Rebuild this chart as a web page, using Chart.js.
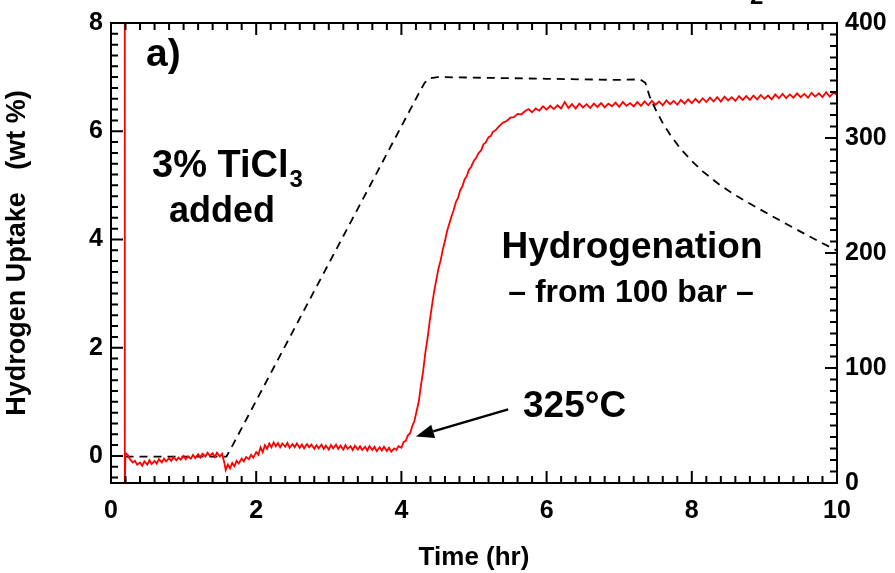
<!DOCTYPE html>
<html>
<head>
<meta charset="utf-8">
<script src="https://cdn.jsdelivr.net/npm/chart.js@4.4.0/dist/chart.umd.min.js"></script>
<style>
  body { margin: 0; background: #fff; }
  canvas { display: block; }
</style>
</head>
<body>
<canvas id="uptake" width="895" height="573"></canvas>
<script>
// hydrogen uptake (wt %) against time (hr), left axis
const uptakeTime = [
  0.19, 0.19, 0.20, 0.23, 0.26, 0.30, 0.33, 0.36, 0.40, 0.43,
  0.46, 0.50, 0.53, 0.56, 0.60, 0.63, 0.66, 0.70, 0.73, 0.76,
  0.80, 0.83, 0.86, 0.90, 0.93, 0.96, 1.00, 1.03, 1.06, 1.10,
  1.13, 1.16, 1.20, 1.23, 1.26, 1.30, 1.33, 1.36, 1.40, 1.43,
  1.46, 1.50, 1.53, 1.56, 1.58, 1.61, 1.64, 1.67, 1.70, 1.73,
  1.76, 1.80, 1.83, 1.86, 1.90, 1.93, 1.96, 2.00, 2.03, 2.06,
  2.09, 2.12, 2.15, 2.18, 2.21, 2.24, 2.27, 2.30, 2.33, 2.36,
  2.40, 2.43, 2.46, 2.50, 2.53, 2.56, 2.60, 2.63, 2.66, 2.70,
  2.73, 2.76, 2.80, 2.83, 2.86, 2.90, 2.93, 2.96, 3.00, 3.03,
  3.06, 3.10, 3.13, 3.16, 3.20, 3.23, 3.26, 3.30, 3.33, 3.36,
  3.40, 3.43, 3.46, 3.50, 3.53, 3.56, 3.60, 3.63, 3.66, 3.70,
  3.73, 3.76, 3.80, 3.83, 3.86, 3.90, 3.93, 3.96, 4.00, 4.03,
  4.06, 4.09, 4.12, 4.15, 4.18, 4.21, 4.24, 4.27, 4.30, 4.33,
  4.36, 4.39, 4.42, 4.45, 4.48, 4.51, 4.54, 4.57, 4.60, 4.63,
  4.66, 4.69, 4.72, 4.75, 4.78, 4.81, 4.84, 4.87, 4.90, 4.93,
  4.96, 5.00, 5.03, 5.06, 5.10, 5.13, 5.16, 5.20, 5.23, 5.26,
  5.30, 5.33, 5.36, 5.40, 5.45, 5.50, 5.55, 5.60, 5.65, 5.70,
  5.75, 5.80, 5.85, 5.90, 5.95, 6.00, 6.05, 6.10, 6.15, 6.20,
  6.25, 6.30, 6.35, 6.40, 6.45, 6.50, 6.55, 6.60, 6.65, 6.70,
  6.75, 6.80, 6.85, 6.90, 6.95, 7.00, 7.05, 7.10, 7.15, 7.20,
  7.25, 7.30, 7.35, 7.40, 7.45, 7.50, 7.55, 7.60, 7.65, 7.70,
  7.75, 7.80, 7.85, 7.90, 7.95, 8.00, 8.05, 8.10, 8.15, 8.20,
  8.25, 8.30, 8.35, 8.40, 8.45, 8.50, 8.55, 8.60, 8.65, 8.70,
  8.75, 8.80, 8.85, 8.90, 8.95, 9.00, 9.05, 9.10, 9.15, 9.20,
  9.25, 9.30, 9.35, 9.40, 9.45, 9.50, 9.55, 9.60, 9.65, 9.70,
  9.75, 9.80, 9.85, 9.90, 9.95, 10.00
];
const uptakeWt = [
  8.6, -0.6, 0.05, 0.02, -0.06, -0.12, -0.09, -0.16, -0.12, -0.18,
  -0.10, -0.16, -0.08, -0.15, -0.09, -0.14, -0.06, -0.12, -0.05, -0.10,
  -0.04, -0.09, -0.02, -0.08, -0.03, -0.07, 0.00, -0.06, -0.01, -0.05,
  0.02, -0.04, 0.03, -0.03, 0.04, -0.01, 0.06, 0.00, 0.05, -0.02,
  0.06, -0.01, 0.04, -0.12, -0.26, -0.16, -0.23, -0.13, -0.19, -0.09,
  -0.14, -0.05, -0.10, -0.02, -0.06, 0.02, -0.03, 0.07, 0.02, 0.16,
  0.07, 0.20, 0.13, 0.23, 0.16, 0.25, 0.18, 0.24, 0.16, 0.23,
  0.17, 0.24, 0.15, 0.22, 0.16, 0.23, 0.15, 0.21, 0.14, 0.22,
  0.16, 0.21, 0.13, 0.20, 0.14, 0.21, 0.13, 0.19, 0.12, 0.20,
  0.14, 0.21, 0.13, 0.19, 0.12, 0.20, 0.13, 0.18, 0.11, 0.19,
  0.12, 0.18, 0.11, 0.17, 0.10, 0.18, 0.11, 0.17, 0.09, 0.16,
  0.10, 0.17, 0.09, 0.15, 0.08, 0.14, 0.11, 0.18, 0.15, 0.26,
  0.28, 0.38, 0.42, 0.55, 0.65, 0.83, 1.01, 1.31, 1.57, 1.91,
  2.17, 2.49, 2.77, 3.03, 3.25, 3.46, 3.61, 3.81, 3.97, 4.16,
  4.29, 4.43, 4.54, 4.69, 4.77, 4.91, 4.98, 5.11, 5.17, 5.29,
  5.34, 5.46, 5.51, 5.59, 5.65, 5.76, 5.79, 5.89, 5.91, 5.99,
  6.02, 6.07, 6.11, 6.16, 6.19, 6.25, 6.26, 6.32, 6.31, 6.37,
  6.41, 6.35, 6.42, 6.38, 6.46, 6.40, 6.47, 6.41, 6.48, 6.42,
  6.54, 6.43, 6.50, 6.42, 6.51, 6.44, 6.50, 6.43, 6.51, 6.45,
  6.52, 6.44, 6.51, 6.46, 6.53, 6.45, 6.54, 6.47, 6.52, 6.46,
  6.54, 6.47, 6.55, 6.48, 6.56, 6.49, 6.55, 6.48, 6.57, 6.50,
  6.56, 6.49, 6.58, 6.51, 6.59, 6.52, 6.60, 6.53, 6.61, 6.54,
  6.62, 6.55, 6.63, 6.55, 6.64, 6.57, 6.63, 6.56, 6.65, 6.58,
  6.65, 6.58, 6.66, 6.59, 6.67, 6.60, 6.66, 6.59, 6.68, 6.61,
  6.69, 6.61, 6.68, 6.62, 6.70, 6.63, 6.69, 6.62, 6.71, 6.64,
  6.70, 6.63, 6.72, 6.64, 6.71, 6.68
];

// sample temperature (°C) against time (hr), right axis
const tempTime = [0.20, 1.59, 1.66, 4.25, 4.32, 4.39, 4.50, 5.00, 6.00, 7.00,
                  7.29, 7.36, 7.42, 7.50, 7.60, 7.70, 7.84, 8.00, 8.15, 8.39,
                  8.62, 8.84, 9.08, 9.31, 9.53, 9.77, 10.00];
const tempC = [23, 23, 31, 340, 348, 352, 353, 352.5, 351.5, 350.5,
               351, 348, 336, 325, 313, 303, 291, 280, 271, 259,
               249.5, 241.5, 233, 225, 217.5, 209.5, 202];

const timeTicks = [0, 2, 4, 6, 8, 10];
const uptakeTicks = [0, 2, 4, 6, 8];
const tempTicks = [0, 100, 200, 300, 400];

const FONT = 'Liberation Sans, Arial, Helvetica, sans-serif';
Chart.defaults.font.family = FONT;
Chart.defaults.color = '#000';

function bold(size) {
  return 'bold ' + size + 'px ' + FONT;
}

function points(xs, ys) {
  return xs.map((t, i) => ({ x: t, y: ys[i] }));
}

// box around the plot plus inward major/minor ticks on all four sides
const framePlugin = {
  id: 'frame',
  afterDraw(chart) {
    const { ctx, chartArea: a, scales } = chart;
    ctx.save();
    ctx.strokeStyle = '#000';
    ctx.lineWidth = 2;
    ctx.strokeRect(a.left, a.top, a.right - a.left, a.bottom - a.top);

    ctx.beginPath();
    // time: every 0.2 hr, major every 2
    for (let i = 0; i <= 50; i++) {
      const px = scales.x.getPixelForValue(i * 0.2);
      const len = i % 10 === 0 ? 12 : 7;
      ctx.moveTo(px, a.bottom); ctx.lineTo(px, a.bottom - len);
      ctx.moveTo(px, a.top); ctx.lineTo(px, a.top + len);
    }
    // uptake: every 0.2 wt%, major every 2
    for (let i = -2; i <= 40; i++) {
      const py = scales.y.getPixelForValue(i * 0.2);
      const len = i % 10 === 0 ? 12 : 7;
      ctx.moveTo(a.left, py); ctx.lineTo(a.left + len, py);
    }
    // temperature: every 10 °C, major every 100
    for (let i = 0; i <= 40; i++) {
      const py = scales.y2.getPixelForValue(i * 10);
      const len = i % 10 === 0 ? 12 : 7;
      ctx.moveTo(a.right, py); ctx.lineTo(a.right - len, py);
    }
    ctx.stroke();
    ctx.restore();
  }
};

// text labels and the arrow
const notesPlugin = {
  id: 'notes',
  afterDraw(chart) {
    const { ctx, scales } = chart;
    ctx.save();
    ctx.fillStyle = '#000';
    ctx.strokeStyle = '#000';
    ctx.textBaseline = 'alphabetic';

    ctx.textAlign = 'left';
    ctx.font = bold(24);
    ctx.fillText('2', 750, 4);

    ctx.font = bold(39);
    ctx.fillText('a)', 146, 66);
    ctx.font = bold(38);
    ctx.fillText('3% TiCl', 152, 177);
    const w = ctx.measureText('3% TiCl').width;
    ctx.font = bold(24);
    ctx.fillText('3', 152 + w + 1, 187);

    ctx.textAlign = 'center';
    ctx.font = bold(36);
    ctx.fillText('added', 222, 222);
    ctx.font = bold(37);
    ctx.fillText('Hydrogenation', 632, 258);
    ctx.font = bold(32);
    ctx.fillText('\u2013 from 100 bar \u2013', 631, 302);

    ctx.textAlign = 'left';
    ctx.font = bold(37);
    ctx.fillText('325\u00b0C', 523, 417);

    // arrow pointing at the start of absorption
    const x0 = scales.x.getPixelForValue(5.47), y0 = scales.y.getPixelForValue(0.86);
    const x1 = scales.x.getPixelForValue(4.20), y1 = scales.y.getPixelForValue(0.36);
    const ang = Math.atan2(y1 - y0, x1 - x0);
    const head = 18, half = 7;
    const bx = x1 - head * Math.cos(ang), by = y1 - head * Math.sin(ang);
    ctx.lineWidth = 2.5;
    ctx.beginPath();
    ctx.moveTo(x0, y0);
    ctx.lineTo(bx, by);
    ctx.stroke();
    ctx.beginPath();
    ctx.moveTo(x1, y1);
    ctx.lineTo(bx + half * Math.sin(ang), by - half * Math.cos(ang));
    ctx.lineTo(bx - half * Math.sin(ang), by + half * Math.cos(ang));
    ctx.closePath();
    ctx.fill();
    ctx.restore();
  }
};

const tickFont = { family: FONT, size: 25, weight: 'bold' };
const titleFont = { family: FONT, size: 27, weight: 'bold' };

new Chart(document.getElementById('uptake'), {
  type: 'line',
  data: {
    datasets: [
      {
        data: points(uptakeTime, uptakeWt),
        yAxisID: 'y',
        borderColor: '#ff0000',
        borderWidth: 1.8,
        pointRadius: 0,
        tension: 0
      },
      {
        data: points(tempTime, tempC),
        yAxisID: 'y2',
        borderColor: '#000',
        borderWidth: 1.8,
        borderDash: [8, 6],
        pointRadius: 0,
        tension: 0
      }
    ]
  },
  options: {
    responsive: false,
    animation: false,
    layout: { padding: { top: 20, left: 0, right: 0, bottom: 0 } },
    plugins: { legend: { display: false }, tooltip: { enabled: false } },
    scales: {
      x: {
        type: 'linear', position: 'bottom', min: 0, max: 10,
        grid: { display: false, drawTicks: false },
        border: { display: false },
        afterBuildTicks: s => { s.ticks = timeTicks.map(v => ({ value: v })); },
        afterFit: s => { s.height = 90; },
        ticks: { font: tickFont, color: '#000', padding: 13, maxRotation: 0 },
        title: { display: true, text: 'Time (hr)', font: { family: FONT, size: 26, weight: 'bold' }, color: '#000', padding: { top: 0, bottom: 0 } }
      },
      y: {
        type: 'linear', position: 'left', min: -0.5, max: 8,
        grid: { display: false, drawTicks: false },
        border: { display: false },
        afterBuildTicks: s => { s.ticks = uptakeTicks.map(v => ({ value: v })); },
        afterFit: s => { s.width = 111; },
        ticks: { font: tickFont, color: '#000', padding: 8 },
        title: { display: true, text: 'Hydrogen Uptake   (wt %)', font: titleFont, color: '#000', padding: { top: 1, bottom: 0 } }
      },
      y2: {
        type: 'linear', position: 'right', min: 0, max: 400,
        grid: { display: false, drawTicks: false },
        border: { display: false },
        afterBuildTicks: s => { s.ticks = tempTicks.map(v => ({ value: v })); },
        afterFit: s => { s.width = 58; },
        ticks: { font: tickFont, color: '#000', padding: 8 }
      }
    }
  },
  plugins: [framePlugin, notesPlugin]
});
</script>
</body>
</html>
